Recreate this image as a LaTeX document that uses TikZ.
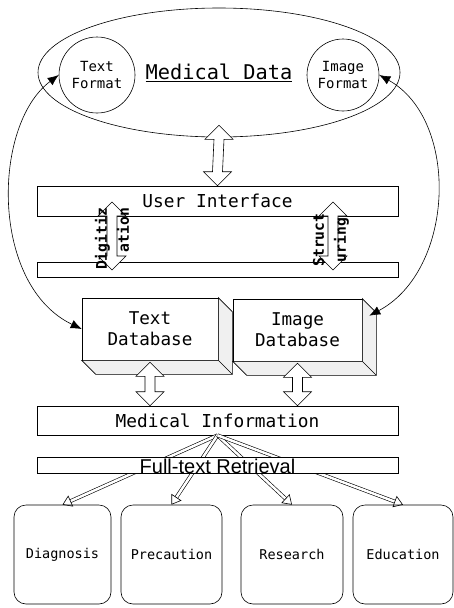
\documentclass[tikz,border=0pt]{standalone}
\usepackage{fontspec}
\setmonofont{DejaVu Sans Mono}
\newfontfamily\retrievalfont{Liberation Sans}
\usepackage{tikz}
\usetikzlibrary{calc, arrows.meta, shapes.geometric}

\tikzset{
	hollow/.style={draw=black, fill=white, to path={
		(\tikztostart) -- ($(\tikztostart)+(14pt,-14pt)$) -- ($(\tikztostart)+(5pt,-14pt)$)
		-- ($(\tikztotarget)+(5pt,14pt)$) -- ($(\tikztotarget)+(14pt,14pt)$) -- (\tikztotarget)
		-- ($(\tikztotarget)+(-14pt,14pt)$) -- ($(\tikztotarget)+(-5pt,14pt)$)
		-- ($(\tikztostart)+(-5pt,-14pt)$) -- ($(\tikztostart)+(-14pt,-14pt)$) -- cycle}}
}

\begin{document}
\begin{tikzpicture}[x=1pt, y=-1pt, >=latex, font=\ttfamily, line width=0.6pt]
		\tikzstyle{plain} = [draw=black, rectangle, inner sep=0pt, minimum width=361pt]
		\tikzstyle{fmt} = [draw=black, circle, align=center, inner sep=0pt, font=\ttfamily\fontsize{14}{17}\selectfont]
		\tikzstyle{front} = [draw=black, rectangle, minimum height=62pt, align=center, font=\ttfamily\fontsize{17.6}{21}\selectfont]
		\tikzstyle{side} = [draw=black, fill=gray!12]
		\tikzstyle{use} = [draw=black, rounded corners=12pt, minimum height=99pt, font=\ttfamily\fontsize{13.5}{16}\selectfont]
		\tikzstyle{turn} = [rotate=90, inner sep=0pt, font=\ttfamily\bfseries\fontsize{14.7}{22}\selectfont]
		\tikzstyle{link} = [{Latex[length=11pt, width=9pt]}-{Latex[length=11pt, width=9pt]}]
		\tikzstyle{fan} = [double, double distance=2.5pt, -{Triangle[open, length=9pt, width=12pt]}]
		
		\useasboundingbox (0, 0) rectangle (454, 608);
		
		\node[draw=black, ellipse, minimum width=362pt, minimum height=129pt, inner sep=0pt,
			font=\ttfamily\fontsize{20.3}{24}\selectfont] at (219, 72.5) (md) {\underline{Medical Data}};
		\node[fmt, minimum size=76pt]	at (97, 75)		(tf)	{Text\\Format};
		\node[fmt, minimum size=72pt]	at (343, 75)	(if)	{Image\\Format};
		
		\node[plain, minimum height=30pt, font=\ttfamily\fontsize{17.8}{21}\selectfont]
			at (217.5, 201)	(ui)	{User Interface};
		\node[plain, minimum height=15pt]	at (217.5, 269.5)	(conv)	{};
		
		\node[front, minimum width=136pt]	at (150, 329)	(tdb)	{Text\\Database};
		\node[front, minimum width=129pt]	at (297.5, 330)	(idb)	{Image\\Database};
		
		\node[plain, minimum height=29pt, font=\ttfamily\fontsize{17.8}{21}\selectfont]
			at (217.5, 420.5)	(mi)	{Medical Information};
		
		\node[use, minimum width=97pt]	at (62.5, 554.5)	(diag)	{Diagnosis};
		\node[use, minimum width=101pt]	at (171.5, 554.5)	(prec)	{Precaution};
		\node[use, minimum width=102pt]	at (292, 554.5)		(res)	{Research};
		\node[use, minimum width=100pt]	at (403, 554.5)		(edu)	{Education};
		
		% database sides
		\draw[side] (tdb.north east) -- ([shift={(14pt,-14pt)}]tdb.north east) -- ([shift={(14pt,-14pt)}]tdb.south east)
			-- ([shift={(14pt,-14pt)}]tdb.south west) -- (tdb.south west) -- (tdb.south east) -- cycle;
		\draw (tdb.south east) -- ++(14pt,-14pt);
		\draw[side] (idb.north east) -- ([shift={(14pt,-14pt)}]idb.north east) -- ([shift={(14pt,-14pt)}]idb.south east)
			-- ([shift={(14pt,-14pt)}]idb.south west) -- (idb.south west) -- (idb.south east) -- cycle;
		\draw (idb.south east) -- ++(14pt,-14pt);
		
		\coordinate (mdtip)		at ([yshift=12pt]md.south);
		\coordinate (dgtop)		at (112, 202);
		\coordinate (dgbot)		at (112, 270);
		\coordinate (sttop)		at (333, 202);
		\coordinate (stbot)		at (333, 270);
		\coordinate (tdbin)		at (tdb.south |- mi.north);
		\coordinate (idbin)		at (idb.south |- mi.north);
		\coordinate (idbside)	at ([shift={(7pt,-17pt)}]idb.north east);
		
		\draw[hollow] (mdtip) to (ui.north);
		\draw[hollow] (dgtop) to (dgbot);
		\draw[hollow] (sttop) to (stbot);
		\draw[hollow] ([yshift=-2pt]tdb.south) to (tdbin);
		\draw[hollow] ([yshift=-2pt]idb.south) to (idbin);
		
		\node[turn, align=right]	at (112, 239)	(dig)	{Digitiz\\ation};
		\node[turn, align=center]	at (331, 240)	(str)	{Struct\\uring};
		
		\draw[link] (tdb.west) .. controls (-10, 285) and (-8, 125) .. (tf.west);
		\draw[link] (idbside) .. controls (455, 270) and (460, 120) .. (if.east);
		
		\draw[fan] (mi.south) -- (diag.north);
		\draw[fan] (mi.south) -- (prec.north);
		\draw[fan] (mi.south) -- (res.north);
		\draw[fan] (mi.south) -- (edu.north);
		
		\node[plain, fill=white, text height=16pt, text depth=0pt, font=\retrievalfont\fontsize{20}{22}\selectfont]
			at (217.5, 465)	(ftr)	{Full-text Retrieval};
	\end{tikzpicture}
\end{document}
